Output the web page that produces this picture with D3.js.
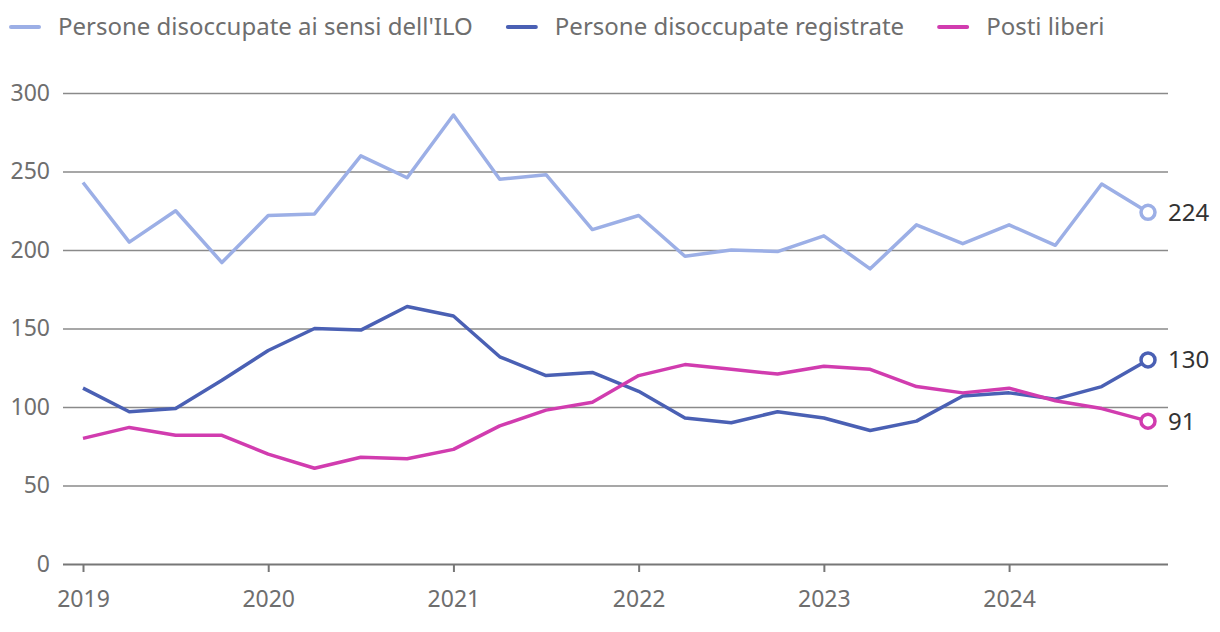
<!DOCTYPE html>
<html>
<head>
<meta charset="utf-8">
<script src="https://cdn.jsdelivr.net/npm/d3@7"></script>
<style>
    body { margin: 0; background: #fff; }
    svg text { font-family: "Noto Sans", sans-serif; }
</style>
</head>
<body>
<svg id="chart" width="1220" height="632"></svg>
<script>
// quarterly values, 2019 Q1 .. 2024 Q4 (thousands)
var years = [2019, 2020, 2021, 2022, 2023, 2024];
var quarters = [];
years.forEach(function (y) { [0, 0.25, 0.5, 0.75].forEach(function (q) { quarters.push(y + q); }); });

var iloValues = [243, 205, 225, 192, 222, 223, 260, 246, 286, 245, 248, 213,
                 222, 196, 200, 199, 209, 188, 216, 204, 216, 203, 242, 224];
var registeredValues = [112, 97, 99, 117, 136, 150, 149, 164, 158, 132, 120, 122,
                        110, 93, 90, 97, 93, 85, 91, 107, 109, 105, 113, 130];
var vacancyValues = [80, 87, 82, 82, 70, 61, 68, 67, 73, 88, 98, 103,
                     120, 127, 124, 121, 126, 124, 113, 109, 112, 104, 99, 91];

var seriesNames = ["Persone disoccupate ai sensi dell'ILO", "Persone disoccupate registrate", "Posti liberi"];
var seriesColors = ["#9cafe6", "#4a60b4", "#d13caf"];
var yTicks = [0, 50, 100, 150, 200, 250, 300];

var series = [iloValues, registeredValues, vacancyValues].map(function (vals, i) {
    return { Name: seriesNames[i], Color: seriesColors[i], Values: vals };
});

var svg = d3.select("#chart");
var gridLeft = 63, gridRight = 1168;

var x = d3.scaleLinear().domain([2019, 2024.75]).range([83, 1148]);
var y = d3.scaleLinear().domain([0, 300]).range([564, 93]);

// horizontal grid lines + y labels
var yAxis = d3.axisLeft(y).tickValues(yTicks).tickSize(-(gridRight - gridLeft)).tickPadding(13);
var yg = svg.append("g")
    .attr("transform", "translate(" + gridLeft + ",0)")
    .call(yAxis);
yg.select(".domain").remove();
yg.selectAll(".tick line").attr("stroke", "#8a8a8a").attr("stroke-width", 1.5);
yg.selectAll(".tick text")
    .attr("fill", "#6e6e6e")
    .style("font-size", "23px");
yg.selectAll(".tick").filter(function (d) { return d === 0; }).select("line").attr("stroke", "#777").attr("stroke-width", 2);

// x axis ticks and year labels
var xAxis = d3.axisBottom(x).tickValues(years).tickFormat(d3.format("d")).tickSize(8).tickPadding(19);
var xg = svg.append("g")
    .attr("transform", "translate(0," + y(0) + ")")
    .call(xAxis);
xg.select(".domain").remove();
xg.selectAll(".tick line").attr("stroke", "#777").attr("stroke-width", 2);
xg.selectAll(".tick text")
    .attr("fill", "#6e6e6e")
    .style("font-size", "23px");

// lines
var line = d3.line()
    .x(function (d, i) { return x(quarters[i]); })
    .y(function (d) { return y(d); });

svg.selectAll(".series")
    .data(series)
    .enter()
    .append("path")
    .classed("series", true)
    .attr("d", function (d) { return line(d.Values); })
    .attr("fill", "none")
    .attr("stroke", function (d) { return d.Color; })
    .attr("stroke-width", 3.5)
    .attr("stroke-linejoin", "round");

// end markers + value labels
var last = quarters.length - 1;
svg.selectAll(".endpoint")
    .data(series)
    .enter()
    .append("circle")
    .classed("endpoint", true)
    .attr("cx", x(quarters[last]))
    .attr("cy", function (d) { return y(d.Values[last]); })
    .attr("r", 7)
    .attr("fill", "#fff")
    .attr("stroke", function (d) { return d.Color; })
    .attr("stroke-width", 3.5);

svg.selectAll(".endlabel")
    .data(series)
    .enter()
    .append("text")
    .classed("endlabel", true)
    .attr("x", x(quarters[last]) + 20)
    .attr("y", function (d) { return y(d.Values[last]); })
    .attr("dy", "0.35em")
    .attr("fill", "#333")
    .style("font-size", "24px")
    .text(function (d) { return d.Values[last]; });

// legend
var legend = svg.append("g").attr("transform", "translate(11,27)");
var lx = 0;
series.forEach(function (s) {
    var item = legend.append("g").attr("transform", "translate(" + lx + ",0)");
    item.append("line")
        .attr("x1", 0).attr("x2", 28)
        .attr("y1", 0).attr("y2", 0)
        .attr("stroke", s.Color)
        .attr("stroke-width", 4)
        .attr("stroke-linecap", "round");
    var t = item.append("text")
        .attr("x", 47)
        .attr("dy", "0.35em")
        .attr("fill", "#6e6e6e")
        .style("font-size", "24px")
        .text(s.Name);
    lx += 47 + t.node().getComputedTextLength() + 35;
});
</script>
</body>
</html>
